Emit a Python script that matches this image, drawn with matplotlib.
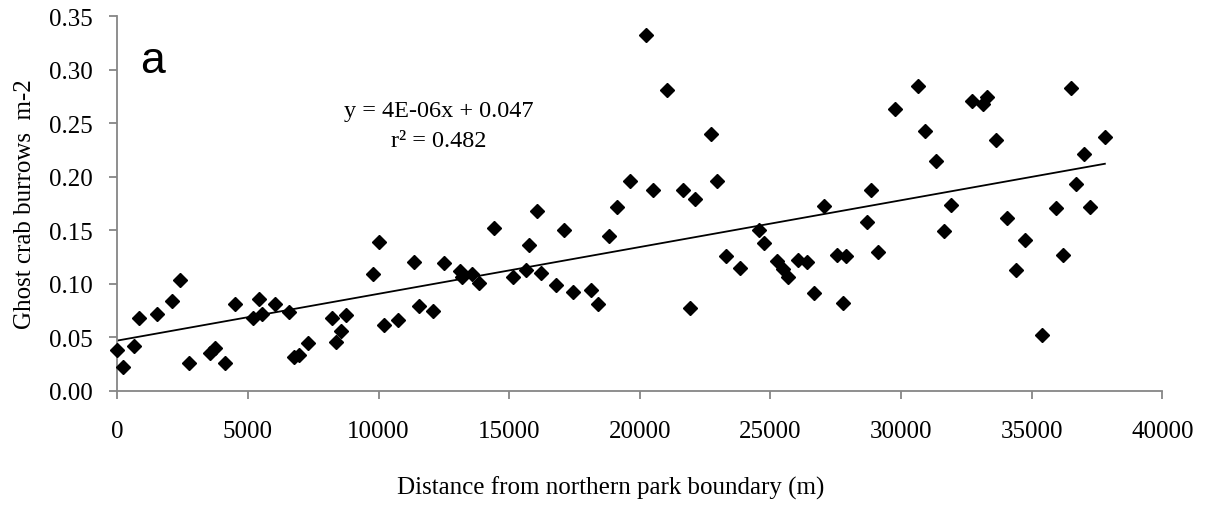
import numpy as np
import matplotlib.pyplot as plt
from matplotlib.ticker import FormatStrFormatter

# distance from northern park boundary (m) and burrow density (m-2)
distance = [0, 230, 640, 830, 1510, 2110, 2410, 2750, 3560, 3730, 4120, 4520,
            5190, 5420, 5540, 6030, 6570, 6760, 6950, 7310, 8220, 8360, 8580, 8750,
            9780, 10000, 10220, 10730, 11370, 11560, 12090, 12500, 13130, 13210,
            13590, 13850, 14420, 15130, 15640, 15770, 16050, 16210, 16780, 17080,
            17460, 18140, 18380, 18830, 19130, 19610, 20240, 20510, 21040, 21670,
            21920, 22100, 22730, 22940, 23290, 23820, 24580, 24740, 25260, 25470,
            25670, 26050, 26380, 26680, 27030, 27540, 27890, 27790, 28700, 28840,
            29100, 29760, 30640, 30920, 31340, 31660, 31910, 32710, 33130, 33300,
            33620, 34050, 34390, 34750, 35410, 35920, 36180, 36510, 36690, 37000,
            37230, 37800]
burrows = [0.038, 0.022, 0.042, 0.068, 0.072, 0.084, 0.104, 0.026, 0.035, 0.040,
           0.026, 0.081, 0.068, 0.086, 0.072, 0.081, 0.074, 0.032, 0.034, 0.045,
           0.068, 0.046, 0.056, 0.071, 0.109, 0.139, 0.062, 0.066, 0.120, 0.079,
           0.075, 0.119, 0.112, 0.106, 0.109, 0.101, 0.152, 0.106, 0.113, 0.136,
           0.168, 0.110, 0.099, 0.150, 0.092, 0.094, 0.081, 0.145, 0.172, 0.196,
           0.332, 0.188, 0.281, 0.188, 0.077, 0.179, 0.240, 0.196, 0.126, 0.115,
           0.150, 0.138, 0.121, 0.114, 0.106, 0.122, 0.120, 0.091, 0.173, 0.127,
           0.126, 0.082, 0.158, 0.188, 0.130, 0.263, 0.285, 0.243, 0.215, 0.149,
           0.174, 0.271, 0.268, 0.274, 0.234, 0.161, 0.113, 0.141, 0.052, 0.171,
           0.127, 0.283, 0.193, 0.221, 0.172, 0.237]

x = np.array(distance)
y = np.array(burrows)
slope, intercept = np.polyfit(x, y, 1)

plt.rcParams["font.family"] = ["Liberation Serif", "DejaVu Serif"]

fig = plt.figure(figsize=(12.06, 5.06), dpi=100)
ax = fig.add_axes([0.0973, 0.2253, 0.8665, 0.7411])

ax.plot(x, y, "D", color="black", markersize=7.5, zorder=3, clip_on=False)
xl = np.array([x.min(), x.max()])
ax.plot(xl, slope * xl + intercept, color="black", linewidth=1.3, zorder=2)

ax.set_xlim(0, 40000)
ax.set_ylim(0, 0.35)
ax.set_xticks(np.arange(0, 40001, 5000))
ax.set_yticks(np.arange(0, 0.3501, 0.05))
ax.yaxis.set_major_formatter(FormatStrFormatter("%.2f"))

for s in ["top", "right"]:
    ax.spines[s].set_visible(False)
for s in ["left", "bottom"]:
    ax.spines[s].set_color("#868686")
    ax.spines[s].set_linewidth(1.3)
ax.tick_params(direction="out", length=6, width=1.3, color="#868686",
               labelsize=18, labelcolor="black")
ax.tick_params(axis="x", pad=15)
ax.tick_params(axis="y", pad=12)

ax.set_xlabel("Distance from northern park boundary (m)", fontsize=18)
ax.set_ylabel("Ghost crab burrows  m-2", fontsize=18)
ax.xaxis.set_label_coords(0.472, -0.225)
ax.yaxis.set_label_coords(-0.078, 0.5)

fig.text(0.116, 0.856, "a", fontsize=32, family="Liberation Sans",
         va="baseline", ha="left")
fig.text(0.364, 1 - 112 / 506, "y = 4E-06x + 0.047", fontsize=17.5,
         ha="center", va="center")
fig.text(0.364, 1 - 142 / 506, "r\u00b2 = 0.482", fontsize=17.5,
         ha="center", va="center")

fig.savefig("out.png", dpi=100)
